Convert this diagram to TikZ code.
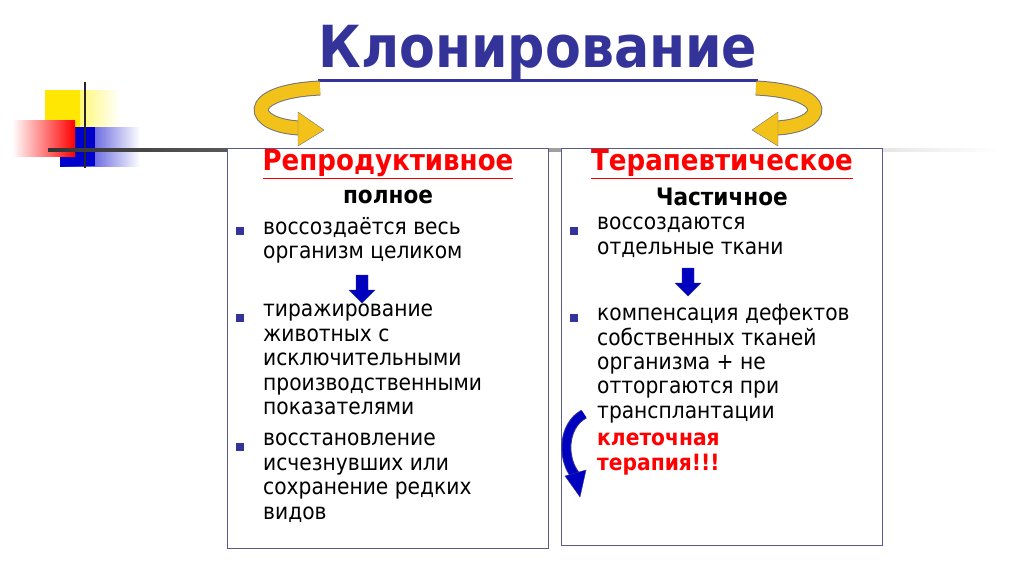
\documentclass[tikz,border=0pt]{standalone}
\usepackage{fontspec}
\setmainfont{DejaVu Sans Condensed}
\usetikzlibrary{shapes.geometric}
\definecolor{tblue}{HTML}{333399}
\definecolor{tred}{HTML}{FF0000}
\definecolor{gold}{HTML}{F2C21B}
\definecolor{bframe}{HTML}{5A5A8C}
\begin{document}
\begin{tikzpicture}[x=1pt,y=-1pt,
  txt/.style={anchor=north west,inner sep=0pt,align=left,font=\fontsize{22.5}{24.4}\selectfont,text=black},
  bul/.style={fill=tblue,minimum size=8pt,inner sep=0pt},
  hdr/.style={font=\fontsize{29}{30}\selectfont\bfseries,text=tred,inner sep=0pt},
  sub/.style={font=\fontsize{24}{26}\selectfont\bfseries,inner sep=0pt},
  box/.style={draw=bframe,line width=0.8pt}]
\useasboundingbox (0,0) rectangle (1024,574);
% decoration
\shade[left color=yellow!90!orange,right color=white] (45,90) rectangle (120,140);
\fill[yellow!90!orange] (45,90) rectangle (80,140);
\shade[left color=blue!80!black,right color=white] (60,127) rectangle (140,166);
\fill[blue!80!black] (60,127) rectangle (95,166);
\shade[left color=white,right color=red] (12,120) rectangle (75,156);
\draw[line width=2.5pt,black!85] (85,82) -- (85,168);
\shade[left color=black!80,right color=white] (48,148) rectangle (1000,151);
% title
\node[font=\fontsize{58}{60}\selectfont\bfseries,text=tblue,inner sep=0pt] (title) at (538,52) {Клонирование};
\draw[line width=3pt,tblue] ([yshift=-1pt]title.south west) -- ([yshift=-1pt]title.south east);
% boxes
\draw[box,fill=white] (227,148) rectangle (548,548);
\draw[box,fill=white] (561,148) rectangle (882,545);
\node[hdr] (h1) at (388,164) {\underline{Репродуктивное}};
\node[sub] (s1) at (388,197) {полное};
\node[hdr] (h2) at (722,164) {\underline{Терапевтическое}};
\node[sub] (s2) at (722,197) {Частичное};
% left bullets
\node[bul] (b1) at (240,231) {};
\node[txt] (t1) at (263,217) {воссоздаётся весь\\организм целиком};
\node[bul] (b2) at (240,318) {};
\node[txt] (t2) at (263,304) {тиражирование\\животных с\\исключительными\\производственными\\показателями};
\node[bul] (b3) at (240,447) {};
\node[txt] (t3) at (263,433) {восстановление\\исчезнувших или\\сохранение редких\\видов};
% right bullets
\node[bul] (b4) at (574,231) {};
\node[txt] (t4) at (597,217) {воссоздаются\\отдельные ткани};
\node[bul] (b5) at (574,318) {};
\node[txt] (t5) at (597,304) {компенсация дефектов\\собственных тканей\\организма + не\\отторгаются при\\трансплантации};
\node[txt,text=tred,font=\fontsize{22.5}{24.4}\selectfont\bfseries] (t6) at (597,433) {клеточная\\терапия!!!};
% small down arrows
\foreach \cx/\ty in {362/275,688/268}{
  \filldraw[fill=blue!75!black,draw=tblue] (\cx-6,\ty) -- (\cx+6,\ty) -- (\cx+6,\ty+15) -- (\cx+13,\ty+15) -- (\cx,\ty+28) -- (\cx-13,\ty+15) -- (\cx-6,\ty+15) -- cycle;}
% curved gold arrows
\draw[line width=15pt,black!55] (320,88) .. controls (240,92) and (250,126) .. (300,128);
\draw[line width=13pt,gold] (320,88) .. controls (240,92) and (250,126) .. (300,128);
\filldraw[fill=gold,draw=black!55] (298,112) -- (324,130) -- (298,146) -- cycle;
\draw[line width=15pt,black!55] (756,88) .. controls (836,92) and (826,126) .. (776,128);
\draw[line width=13pt,gold] (756,88) .. controls (836,92) and (826,126) .. (776,128);
\filldraw[fill=gold,draw=black!55] (778,112) -- (752,130) -- (778,146) -- cycle;
% blue curved arrow
\draw[line width=10pt,tblue] (584,414) .. controls (562,426) and (562,460) .. (576,476);
\draw[line width=8pt,blue!75!black] (584,414) .. controls (562,426) and (562,460) .. (576,476);
\filldraw[fill=blue!75!black,draw=tblue] (565,476) -- (586,470) -- (580,497) -- cycle;
\end{tikzpicture}
\end{document}
